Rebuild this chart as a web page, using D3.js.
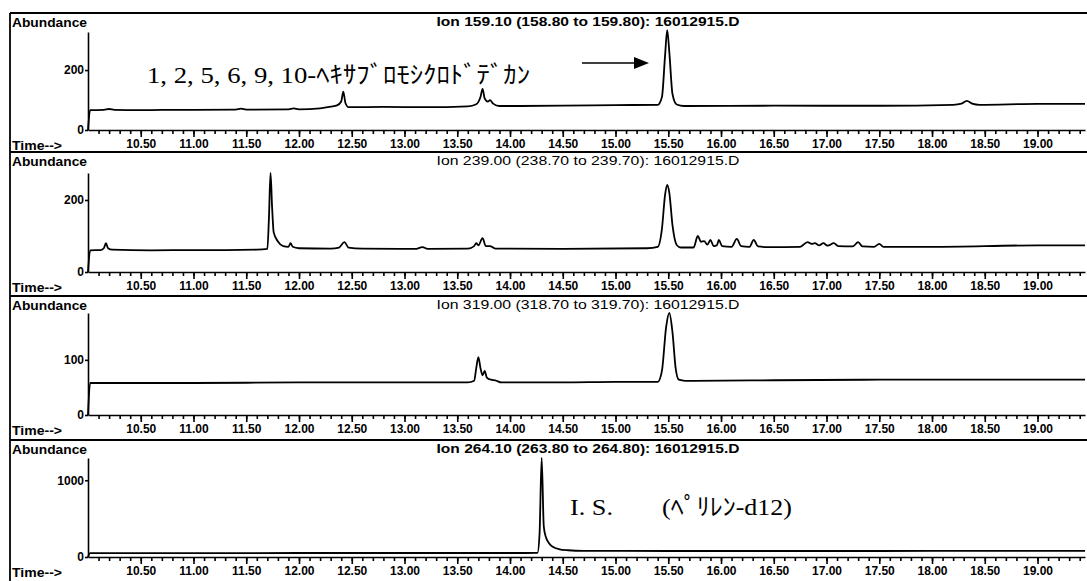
<!DOCTYPE html>
<html>
<head>
<meta charset="utf-8">
<script src="https://cdn.jsdelivr.net/npm/d3@7"></script>
<style>
  body { margin: 0; background: #fff; }
  svg { display: block; }
  .tick text { font-family: "Liberation Sans", Arial, sans-serif; font-weight: bold; font-size: 12px; fill: #000; }
  .domain, .tick line { stroke: #000; stroke-width: 1.6; }
</style>
</head>
<body>
<svg id="chart"></svg>
<script>
// ion titles for the four traces
var ionTitles = [
  "Ion 159.10 (158.80 to 159.80): 16012915.D",
  "Ion 239.00 (238.70 to 239.70): 16012915.D",
  "Ion 319.00 (318.70 to 319.70): 16012915.D",
  "Ion 264.10 (263.80 to 264.80): 16012915.D"
];
var yTickValues = [[0, 200], [0, 200], [0, 100], [0, 1000]];
var yMax = [327, 275, 185, 1290];
var timeTicks = [10.5, 11, 11.5, 12, 12.5, 13, 13.5, 14, 14.5, 15, 15.5, 16, 16.5, 17, 17.5, 18, 18.5, 19];

// traces, [time, abundance]
var trace159 = [
  [10.00, 0], [10.02, 66], [10.15, 67], [10.2, 70], [10.25, 67], [10.5, 66], [10.7, 67], [11.0, 67],
  [11.4, 68], [11.45, 71], [11.5, 68], [11.9, 69], [11.95, 72], [12.0, 69], [12.2, 72], [12.3, 78],
  [12.36, 82], [12.40, 95], [12.42, 128], [12.44, 90], [12.47, 76], [12.8, 77], [13.2, 76], [13.6, 79],
  [13.68, 86], [13.72, 110], [13.74, 137], [13.76, 105], [13.79, 95], [13.81, 100], [13.84, 88], [13.9, 80],
  [14.5, 81], [15.0, 83], [15.40, 84], [15.44, 110], [15.47, 250], [15.49, 333], [15.51, 260], [15.54, 120],
  [15.58, 85], [15.65, 80], [16.5, 81], [17.5, 81], [18.2, 84], [18.28, 88], [18.33, 97], [18.38, 88],
  [18.45, 84], [19.0, 87], [19.45, 87]
];
var trace239 = [
  [10.00, 0], [10.02, 60], [10.12, 61], [10.15, 66], [10.17, 80], [10.19, 66], [10.23, 62], [10.6, 60],
  [11.0, 61], [11.3, 61], [11.6, 62], [11.70, 64], [11.715, 150], [11.73, 275], [11.745, 180], [11.76, 110],
  [11.80, 85], [11.85, 72], [11.90, 70], [11.92, 80], [11.94, 70], [12.0, 66], [12.3, 65], [12.38, 68],
  [12.43, 83], [12.47, 68], [12.6, 65], [13.1, 64], [13.17, 69], [13.22, 64], [13.6, 65], [13.66, 72],
  [13.68, 80], [13.70, 74], [13.74, 94], [13.77, 72], [13.81, 72], [13.86, 65], [14.5, 64], [15.3, 66],
  [15.40, 70], [15.44, 120], [15.47, 215], [15.49, 242], [15.51, 220], [15.54, 130], [15.58, 75], [15.62, 68],
  [15.74, 68], [15.78, 100], [15.81, 84], [15.84, 86], [15.87, 76], [15.90, 89], [15.93, 72], [15.96, 74],
  [15.98, 89], [16.01, 72], [16.10, 70], [16.15, 92], [16.19, 72], [16.27, 70], [16.31, 89], [16.35, 71],
  [16.45, 69], [16.75, 70], [16.82, 83], [16.86, 78], [16.89, 80], [16.93, 74], [16.97, 80], [17.01, 73],
  [17.07, 80], [17.11, 72], [17.25, 71], [17.30, 83], [17.34, 71], [17.45, 70], [17.50, 78], [17.54, 70],
  [18.0, 70], [19.0, 74], [19.45, 74]
];
var trace319 = [
  [10.00, 0], [10.02, 58], [11.0, 58], [12.0, 59], [13.0, 59], [13.6, 59], [13.66, 62], [13.68, 85],
  [13.70, 105], [13.72, 85], [13.74, 72], [13.76, 80], [13.78, 68], [13.82, 64], [13.86, 63], [13.92, 59],
  [14.5, 59], [15.0, 60], [15.40, 60], [15.44, 80], [15.48, 160], [15.51, 185], [15.54, 150], [15.57, 85],
  [15.60, 64], [15.66, 62], [16.5, 63], [17.5, 64], [18.5, 64], [19.45, 64]
];
var trace264 = [
  [10.00, 0], [10.02, 50], [11.0, 50], [12.0, 52], [13.0, 52], [14.0, 52], [14.26, 53], [14.28, 300],
  [14.30, 1290], [14.32, 400], [14.34, 260], [14.37, 180], [14.41, 130], [14.47, 100], [14.55, 88],
  [14.7, 80], [15.5, 78], [16.5, 78], [17.5, 78], [18.5, 80], [19.45, 80]
];
var traces = [trace159, trace239, trace319, trace264];

// panel geometry: y of zero line, y of axis top
var panelZero = [130, 272, 415, 557];
var panelTop = [32, 173, 313, 458];
var separators = [13, 152, 296, 440];

var width = 1087, height = 581;
var svg = d3.select('#chart').attr('width', width).attr('height', height);

var x = d3.scaleLinear().domain([10, 19.45]).range([88, 1085]);

// frame
svg.append('line').attr('x1', 10).attr('x2', 10).attr('y1', 13).attr('y2', height)
  .attr('stroke', '#000').attr('stroke-width', 1.8);
separators.forEach(function(s){
  svg.append('line').attr('x1', 10).attr('x2', width).attr('y1', s).attr('y2', s)
    .attr('stroke', '#000').attr('stroke-width', 1.8);
});

traces.forEach(function(tr, i){
  var y = d3.scaleLinear().domain([0, yMax[i]]).range([panelZero[i], panelTop[i]]);
  var g = svg.append('g');

  g.append('text').attr('x', 12).attr('y', separators[i] + 14)
    .attr('font-family', 'Liberation Sans, Arial, sans-serif').attr('font-weight', 'bold')
    .attr('font-size', 12.5).attr('textLength', 75).attr('lengthAdjust', 'spacingAndGlyphs')
    .text('Abundance');

  g.append('text').attr('x', 588).attr('y', separators[i] + 13).attr('text-anchor', 'middle')
    .attr('font-family', 'Liberation Sans, Arial, sans-serif')
    .attr('font-weight', (i == 1 || i == 2) ? 'normal' : 'bold')
    .attr('font-size', 12.5).attr('textLength', 303).attr('lengthAdjust', 'spacingAndGlyphs')
    .text(ionTitles[i]);

  g.append('text').attr('x', 12).attr('y', panelZero[i] + 20)
    .attr('font-family', 'Liberation Sans, Arial, sans-serif').attr('font-weight', 'bold')
    .attr('font-size', 12).attr('textLength', 50).attr('lengthAdjust', 'spacingAndGlyphs')
    .text('Time-->');

  // minor ticks
  g.append('g').attr('transform', 'translate(0,' + panelZero[i] + ')')
    .call(d3.axisBottom(x).tickValues(d3.range(10.1, 19.45, 0.1)).tickSize(4).tickFormat(''))
    .call(function(a){ a.select('.domain').remove(); });

  g.append('g').attr('transform', 'translate(0,' + panelZero[i] + ')')
    .call(d3.axisBottom(x).tickValues(timeTicks).tickSize(7).tickPadding(2).tickSizeOuter(0)
      .tickFormat(d3.format('.2f')));

  g.append('g').attr('transform', 'translate(88,0)')
    .call(d3.axisLeft(y).tickValues(yTickValues[i]).tickSize(3).tickSizeOuter(0)
      .tickFormat(d3.format('d')))
    .call(function(a){ a.selectAll('.tick text').attr('x', -4); });

  var line = d3.line()
    .x(function(d){ return x(d[0]); })
    .y(function(d){ return y(d[1]); })
    .curve(d3.curveMonotoneX);

  g.append('path').datum(tr).attr('d', line)
    .attr('fill', 'none').attr('stroke', '#000').attr('stroke-width', 1.8)
    .attr('stroke-linejoin', 'round');
});

// annotations
var jpFont = '"Liberation Serif", "Noto Sans CJK JP", serif';
svg.append('text').attr('x', 147).attr('y', 83)
  .attr('font-family', jpFont).attr('font-size', 24)
  .attr('textLength', 383).attr('lengthAdjust', 'spacingAndGlyphs')
  .text('1, 2, 5, 6, 9, 10-ﾍｷｻﾌﾞﾛﾓｼｸﾛﾄﾞﾃﾞｶﾝ');

svg.append('line').attr('x1', 582).attr('x2', 636).attr('y1', 63).attr('y2', 63)
  .attr('stroke', '#000').attr('stroke-width', 1.6);
svg.append('path').attr('d', 'M634,57 L649,63 L634,69 Z').attr('fill', '#000');

svg.append('text').attr('x', 570).attr('y', 515)
  .attr('font-family', jpFont).attr('font-size', 24)
  .attr('textLength', 43).attr('lengthAdjust', 'spacingAndGlyphs')
  .text('I. S.');
svg.append('text').attr('x', 662).attr('y', 515)
  .attr('font-family', jpFont).attr('font-size', 24)
  .attr('textLength', 130).attr('lengthAdjust', 'spacingAndGlyphs')
  .text('(ﾍﾟﾘﾚﾝ-d12)');
</script>
</body>
</html>
